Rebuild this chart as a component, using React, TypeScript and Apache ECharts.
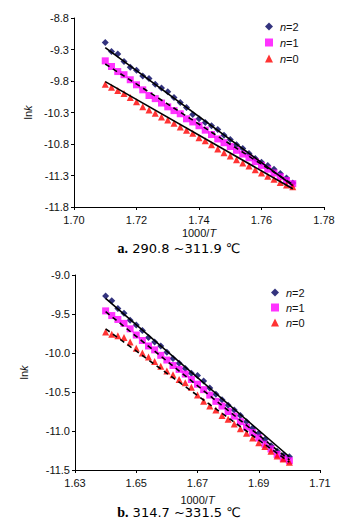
import React, { useEffect, useRef } from "react";
import * as echarts from "echarts";

const topX = [1.710,1.712,1.714,1.716,1.718,1.720,1.722,1.724,1.726,1.728,1.730,1.732,1.734,1.736,1.738,1.740,1.742,1.744,1.746,1.748,1.750,1.752,1.754,1.756,1.758,1.760,1.762,1.764,1.766,1.768,1.770];
const topN2 = [-9.19,-9.33,-9.37,-9.49,-9.58,-9.63,-9.72,-9.76,-9.85,-9.91,-9.97,-10.06,-10.14,-10.22,-10.33,-10.40,-10.46,-10.51,-10.57,-10.66,-10.73,-10.81,-10.87,-10.95,-11.03,-11.09,-11.14,-11.20,-11.27,-11.34,-11.42];
const topN1 = [-9.48,-9.57,-9.65,-9.70,-9.78,-9.86,-9.94,-10.03,-10.08,-10.15,-10.21,-10.27,-10.32,-10.40,-10.45,-10.51,-10.58,-10.65,-10.72,-10.78,-10.84,-10.90,-10.96,-11.02,-11.08,-11.14,-11.20,-11.26,-11.32,-11.38,-11.43];
const topN0 = [-9.85,-9.90,-9.95,-10.00,-10.06,-10.13,-10.21,-10.26,-10.31,-10.37,-10.42,-10.47,-10.53,-10.58,-10.63,-10.70,-10.75,-10.81,-10.88,-10.94,-10.99,-11.05,-11.10,-11.15,-11.21,-11.26,-11.31,-11.36,-11.41,-11.45,-11.48];
const topFitN2 = [[1.71, -9.27], [1.77, -11.46]];
const topFitN1 = [[1.71, -9.53], [1.77, -11.44]];
const topFitN0 = [[1.71, -9.81], [1.77, -11.51]];

const botX = [1.640,1.642,1.644,1.646,1.648,1.650,1.652,1.654,1.656,1.658,1.660,1.662,1.664,1.666,1.668,1.670,1.672,1.674,1.676,1.678,1.680,1.682,1.684,1.686,1.688,1.690,1.692,1.694,1.696,1.698,1.700];
const botN2 = [-9.27,-9.33,-9.43,-9.49,-9.58,-9.64,-9.71,-9.80,-9.86,-9.91,-9.99,-10.07,-10.13,-10.20,-10.26,-10.29,-10.36,-10.45,-10.53,-10.60,-10.67,-10.73,-10.80,-10.88,-10.96,-11.03,-11.11,-11.19,-11.26,-11.31,-11.33];
const botN1 = [-9.46,-9.52,-9.57,-9.62,-9.69,-9.77,-9.84,-9.91,-9.96,-10.03,-10.09,-10.16,-10.21,-10.27,-10.34,-10.40,-10.47,-10.54,-10.62,-10.68,-10.75,-10.81,-10.88,-10.95,-11.02,-11.09,-11.17,-11.23,-11.30,-11.35,-11.38];
const botN0 = [-9.73,-9.76,-9.78,-9.80,-9.86,-9.94,-10.00,-10.05,-10.11,-10.17,-10.23,-10.28,-10.34,-10.38,-10.44,-10.54,-10.62,-10.68,-10.73,-10.80,-10.85,-10.91,-10.97,-11.03,-11.09,-11.15,-11.20,-11.26,-11.32,-11.36,-11.40];
const botFitN2 = [[1.64, -9.30], [1.70, -11.33]];
const botFitN1 = [[1.64, -9.47], [1.70, -11.37]];
const botFitN0 = [[1.64, -9.69], [1.70, -11.40]];

const seriesNames = ["n=2", "n=1", "n=0"];
const captionA = ["a.", " 290.8 ~311.9 ℃"];
const captionB = ["b.", " 314.7 ~331.5 ℃"];

const FONT = "Liberation Sans";
const NAVY = "#00005e";

const zip = (xs: number[], ys: number[]) => xs.map((x, i) => [x, ys[i]]);

export default function App() {
  const ref = useRef<HTMLDivElement>(null);
  useEffect(() => {
    if (!ref.current) return;
    const chart = echarts.init(ref.current, null, { renderer: "svg" });

    const axisCommon = {
      axisLine: { show: true, lineStyle: { color: "#000", width: 1 } },
      axisTick: { show: true, length: 3, lineStyle: { color: "#000" } },
      splitLine: { show: false },
      axisLabel: { color: "#111", fontSize: 11, fontFamily: FONT },
    };
    const xName = "{a|1000/}{b|T}";
    const yName = "{a|ln}{b|k}";
    const nameRich = {
      a: { fontSize: 11, fontFamily: FONT, color: "#111" },
      b: { fontSize: 11, fontFamily: FONT, color: "#111", fontStyle: "italic" },
    };

    const scatter = (name: string, xi: number, data: number[][], symbol: string, color: string, size: number) => ({
      type: "scatter",
      name,
      xAxisIndex: xi,
      yAxisIndex: xi,
      data,
      symbol,
      symbolSize: size,
      itemStyle: { color },
      z: 2,
    });
    const fit = (xi: number, data: number[][], dashed: boolean) => ({
      type: "line",
      xAxisIndex: xi,
      yAxisIndex: xi,
      data,
      symbol: "none",
      lineStyle: { color: "#000", width: 1.6, type: dashed ? [5, 4] : "solid" },
      z: 5,
      silent: true,
    });

    const legendRich = {
      i: { fontStyle: "italic", fontSize: 11, fontFamily: FONT, color: "#111", padding: [0, 0, 0, 2] },
      r: { fontSize: 11, fontFamily: FONT, color: "#111" },
    };
    const legendFmt = (n: string) => "{i|n}{r|" + n.slice(1) + "}";

    const captionText = (c: string[]) => ({
      rich: {
        b: { fontWeight: "bold", fontSize: 14, fontFamily: "Liberation Serif", fill: "#000" },
        t: { fontSize: 13, fontFamily: "DejaVu Sans", fill: "#000" },
      },
      text: "{b|" + c[0] + "}{t|" + c[1] + "}",
    });

    chart.setOption({
      animation: false,
      backgroundColor: "#fff",
      grid: [
        { left: 74, top: 18, width: 250, height: 189 },
        { left: 75, top: 275, width: 245, height: 195 },
      ],
      xAxis: [
        {
          ...axisCommon, type: "value", gridIndex: 0, min: 1.7, max: 1.78, interval: 0.02,
          axisLabel: { ...axisCommon.axisLabel, margin: 7, formatter: (v: number) => v.toFixed(2) },
          name: xName, nameLocation: "middle", nameGap: 20, nameTextStyle: { rich: nameRich },
        },
        {
          ...axisCommon, type: "value", gridIndex: 1, min: 1.63, max: 1.71, interval: 0.02,
          axisLabel: { ...axisCommon.axisLabel, margin: 7, formatter: (v: number) => v.toFixed(2) },
          name: xName, nameLocation: "middle", nameGap: 24, nameTextStyle: { rich: nameRich },
        },
      ],
      yAxis: [
        {
          ...axisCommon, type: "value", gridIndex: 0, min: -11.8, max: -8.8, interval: 0.5,
          axisLabel: { ...axisCommon.axisLabel, margin: 5, formatter: (v: number) => v.toFixed(1) },
          name: yName, nameLocation: "middle", nameGap: 41, nameTextStyle: { rich: nameRich },
        },
        {
          ...axisCommon, type: "value", gridIndex: 1, min: -11.5, max: -9.0, interval: 0.5,
          axisLabel: { ...axisCommon.axisLabel, margin: 5, formatter: (v: number) => v.toFixed(1) },
          name: yName, nameLocation: "middle", nameGap: 46, nameTextStyle: { rich: nameRich },
        },
      ],
      legend: [
        {
          left: 260, top: 16, orient: "vertical", itemGap: 5, itemWidth: 8, itemHeight: 8,
          data: seriesNames, formatter: legendFmt, textStyle: { rich: legendRich }, selectedMode: false,
        },
        {
          left: 266, top: 282, orient: "vertical", itemGap: 4, itemWidth: 8, itemHeight: 8,
          data: seriesNames, formatter: legendFmt, textStyle: { rich: legendRich }, selectedMode: false,
        },
      ],
      graphic: [
        { type: "text", left: "center", top: 241, style: captionText(captionA) },
        { type: "text", left: "center", top: 505, style: captionText(captionB) },
      ],
      series: [
        scatter(seriesNames[0], 0, zip(topX, topN2), "diamond", NAVY, 7),
        scatter(seriesNames[1], 0, zip(topX, topN1), "rect", "#ff00ff", 7),
        scatter(seriesNames[2], 0, zip(topX, topN0), "triangle", "#ff0000", 7),
        fit(0, topFitN2, false),
        fit(0, topFitN1, true),
        fit(0, topFitN0, false),
        scatter(seriesNames[0], 1, zip(botX, botN2), "diamond", NAVY, 7),
        scatter(seriesNames[1], 1, zip(botX, botN1), "rect", "#ff00ff", 7),
        scatter(seriesNames[2], 1, zip(botX, botN0), "triangle", "#ff0000", 7),
        fit(1, botFitN2, false),
        fit(1, botFitN1, true),
        fit(1, botFitN0, true),
      ],
    });
    return () => chart.dispose();
  }, []);
  return (
    <div
      ref={ref}
      style={{ position: "fixed", left: 0, top: 0, width: 358, height: 527, background: "#fff" }}
    />
  );
}
